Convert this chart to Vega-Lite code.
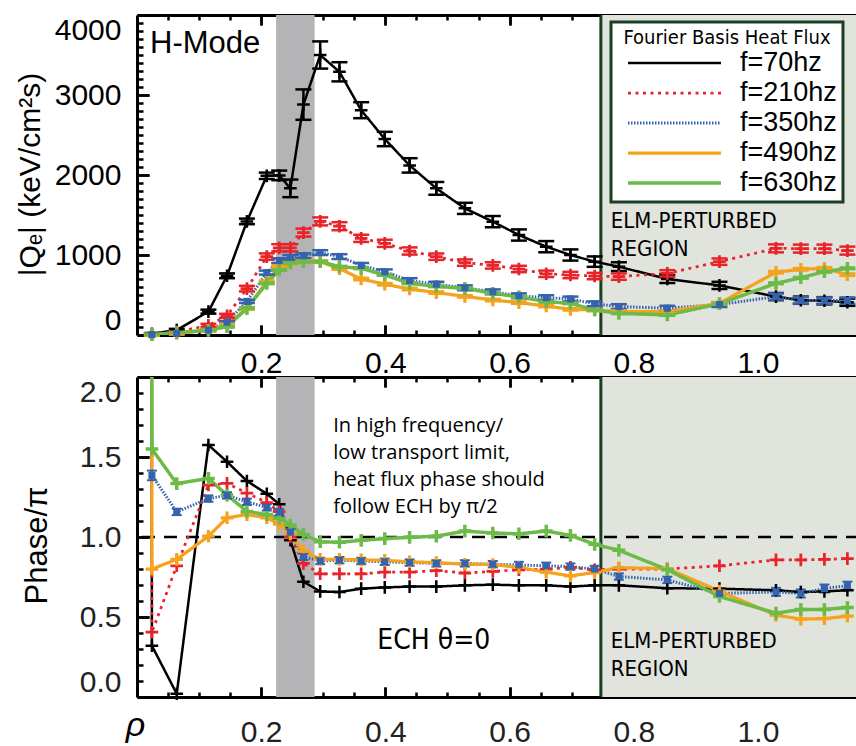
{
"$schema": "https://vega.github.io/schema/vega-lite/v6.json",
"background": "#ffffff",
"padding": {"left": 15, "top": 13, "right": 0, "bottom": 0},
"datasets": {"s": [
{"f":"f=70hz","rho":0.0235,"q":null,"qe":null,"ph":2.5},
{"f":"f=70hz","rho":0.024,"q":15,"qe":10,"ph":0.32},
{"f":"f=70hz","rho":0.064,"q":62,"qe":15,"ph":0.02},
{"f":"f=70hz","rho":0.115,"q":292,"qe":25,"ph":1.575},
{"f":"f=70hz","rho":0.145,"q":740,"qe":30,"ph":1.47},
{"f":"f=70hz","rho":0.177,"q":1420,"qe":35,"ph":1.35},
{"f":"f=70hz","rho":0.209,"q":1990,"qe":40,"ph":1.27},
{"f":"f=70hz","rho":0.229,"q":1995,"qe":60,"ph":1.205},
{"f":"f=70hz","rho":0.247,"q":1833,"qe":110,"ph":0.98},
{"f":"f=70hz","rho":0.268,"q":2880,"qe":190,"ph":0.72},
{"f":"f=70hz","rho":0.295,"q":3500,"qe":170,"ph":0.66},
{"f":"f=70hz","rho":0.326,"q":3290,"qe":120,"ph":0.656},
{"f":"f=70hz","rho":0.361,"q":2810,"qe":100,"ph":0.677},
{"f":"f=70hz","rho":0.399,"q":2450,"qe":90,"ph":0.685},
{"f":"f=70hz","rho":0.439,"q":2120,"qe":90,"ph":0.69},
{"f":"f=70hz","rho":0.482,"q":1833,"qe":80,"ph":0.69},
{"f":"f=70hz","rho":0.528,"q":1583,"qe":70,"ph":0.698},
{"f":"f=70hz","rho":0.573,"q":1417,"qe":70,"ph":0.702},
{"f":"f=70hz","rho":0.615,"q":1250,"qe":70,"ph":0.698},
{"f":"f=70hz","rho":0.659,"q":1104,"qe":70,"ph":0.698},
{"f":"f=70hz","rho":0.698,"q":1000,"qe":70,"ph":0.69},
{"f":"f=70hz","rho":0.737,"q":917,"qe":65,"ph":0.698},
{"f":"f=70hz","rho":0.776,"q":854,"qe":55,"ph":0.698},
{"f":"f=70hz","rho":0.854,"q":700,"qe":50,"ph":0.68},
{"f":"f=70hz","rho":0.938,"q":620,"qe":45,"ph":0.677},
{"f":"f=70hz","rho":1.029,"q":480,"qe":45,"ph":0.667},
{"f":"f=70hz","rho":1.069,"q":435,"qe":45,"ph":0.656},
{"f":"f=70hz","rho":1.107,"q":428,"qe":45,"ph":0.66},
{"f":"f=70hz","rho":1.144,"q":410,"qe":45,"ph":0.667},
{"f":"f=210hz","rho":0.0235,"q":null,"qe":null,"ph":2.5},
{"f":"f=210hz","rho":0.024,"q":10,"qe":5,"ph":0.405},
{"f":"f=210hz","rho":0.064,"q":40,"qe":10,"ph":0.82},
{"f":"f=210hz","rho":0.115,"q":120,"qe":20,"ph":1.325},
{"f":"f=210hz","rho":0.145,"q":240,"qe":25,"ph":1.335},
{"f":"f=210hz","rho":0.177,"q":580,"qe":35,"ph":1.275},
{"f":"f=210hz","rho":0.209,"q":980,"qe":40,"ph":1.215},
{"f":"f=210hz","rho":0.229,"q":1090,"qe":45,"ph":1.158},
{"f":"f=210hz","rho":0.247,"q":1090,"qe":45,"ph":1.0},
{"f":"f=210hz","rho":0.268,"q":1280,"qe":50,"ph":0.835},
{"f":"f=210hz","rho":0.295,"q":1420,"qe":50,"ph":0.77},
{"f":"f=210hz","rho":0.326,"q":1360,"qe":50,"ph":0.77},
{"f":"f=210hz","rho":0.361,"q":1208,"qe":45,"ph":0.77},
{"f":"f=210hz","rho":0.399,"q":1146,"qe":45,"ph":0.78},
{"f":"f=210hz","rho":0.439,"q":1050,"qe":45,"ph":0.78},
{"f":"f=210hz","rho":0.482,"q":979,"qe":40,"ph":0.79},
{"f":"f=210hz","rho":0.528,"q":905,"qe":40,"ph":0.775},
{"f":"f=210hz","rho":0.573,"q":870,"qe":40,"ph":0.785},
{"f":"f=210hz","rho":0.615,"q":825,"qe":40,"ph":0.795},
{"f":"f=210hz","rho":0.659,"q":765,"qe":40,"ph":0.8},
{"f":"f=210hz","rho":0.698,"q":750,"qe":40,"ph":0.81},
{"f":"f=210hz","rho":0.737,"q":737,"qe":40,"ph":0.795},
{"f":"f=210hz","rho":0.776,"q":730,"qe":40,"ph":0.8},
{"f":"f=210hz","rho":0.854,"q":770,"qe":40,"ph":0.8},
{"f":"f=210hz","rho":0.938,"q":917,"qe":40,"ph":0.82},
{"f":"f=210hz","rho":1.029,"q":1083,"qe":50,"ph":0.857},
{"f":"f=210hz","rho":1.069,"q":1080,"qe":50,"ph":0.857},
{"f":"f=210hz","rho":1.107,"q":1080,"qe":50,"ph":0.86},
{"f":"f=210hz","rho":1.144,"q":1055,"qe":50,"ph":0.865},
{"f":"f=350hz","rho":0.0235,"q":null,"qe":null,"ph":2.5,"pe":null},
{"f":"f=350hz","rho":0.024,"q":5,"qe":5,"ph":1.385,"pe":0.03},
{"f":"f=350hz","rho":0.064,"q":20,"qe":5,"ph":1.157,"pe":0.02},
{"f":"f=350hz","rho":0.115,"q":60,"qe":10,"ph":1.24,"pe":0.02},
{"f":"f=350hz","rho":0.145,"q":160,"qe":15,"ph":1.26,"pe":0.02},
{"f":"f=350hz","rho":0.177,"q":420,"qe":20,"ph":1.22,"pe":0.02},
{"f":"f=350hz","rho":0.209,"q":780,"qe":25,"ph":1.185,"pe":0.02},
{"f":"f=350hz","rho":0.229,"q":930,"qe":30,"ph":1.155,"pe":0.02},
{"f":"f=350hz","rho":0.247,"q":970,"qe":30,"ph":1.03,"pe":0.02},
{"f":"f=350hz","rho":0.268,"q":990,"qe":30,"ph":0.876,"pe":0.02},
{"f":"f=350hz","rho":0.295,"q":1030,"qe":30,"ph":0.85,"pe":0.02},
{"f":"f=350hz","rho":0.326,"q":980,"qe":30,"ph":0.855,"pe":0.02},
{"f":"f=350hz","rho":0.361,"q":870,"qe":30,"ph":0.85,"pe":0.02},
{"f":"f=350hz","rho":0.399,"q":790,"qe":30,"ph":0.845,"pe":0.02},
{"f":"f=350hz","rho":0.439,"q":680,"qe":30,"ph":0.84,"pe":0.02},
{"f":"f=350hz","rho":0.482,"q":635,"qe":30,"ph":0.835,"pe":0.02},
{"f":"f=350hz","rho":0.528,"q":590,"qe":30,"ph":0.835,"pe":0.02},
{"f":"f=350hz","rho":0.573,"q":540,"qe":30,"ph":0.83,"pe":0.02},
{"f":"f=350hz","rho":0.615,"q":490,"qe":30,"ph":0.825,"pe":0.02},
{"f":"f=350hz","rho":0.659,"q":467,"qe":30,"ph":0.82,"pe":0.02},
{"f":"f=350hz","rho":0.698,"q":450,"qe":30,"ph":0.815,"pe":0.02},
{"f":"f=350hz","rho":0.737,"q":390,"qe":30,"ph":0.8,"pe":0.02},
{"f":"f=350hz","rho":0.776,"q":355,"qe":30,"ph":0.753,"pe":0.02},
{"f":"f=350hz","rho":0.854,"q":335,"qe":30,"ph":0.732,"pe":0.02},
{"f":"f=350hz","rho":0.938,"q":380,"qe":30,"ph":0.647,"pe":0.02},
{"f":"f=350hz","rho":1.029,"q":480,"qe":40,"ph":0.657,"pe":0.025},
{"f":"f=350hz","rho":1.069,"q":432,"qe":40,"ph":0.647,"pe":0.025},
{"f":"f=350hz","rho":1.107,"q":430,"qe":40,"ph":0.678,"pe":0.025},
{"f":"f=350hz","rho":1.144,"q":430,"qe":40,"ph":0.696,"pe":0.025},
{"f":"f=490hz","rho":0.0235,"q":null,"qe":null,"ph":2.5},
{"f":"f=490hz","rho":0.024,"q":5,"qe":15,"ph":0.8},
{"f":"f=490hz","rho":0.064,"q":20,"qe":15,"ph":0.86},
{"f":"f=490hz","rho":0.115,"q":60,"qe":15,"ph":1.005},
{"f":"f=490hz","rho":0.145,"q":125,"qe":15,"ph":1.12},
{"f":"f=490hz","rho":0.177,"q":333,"qe":15,"ph":1.14},
{"f":"f=490hz","rho":0.209,"q":667,"qe":15,"ph":1.12},
{"f":"f=490hz","rho":0.229,"q":854,"qe":15,"ph":1.08},
{"f":"f=490hz","rho":0.247,"q":896,"qe":15,"ph":1.02},
{"f":"f=490hz","rho":0.268,"q":917,"qe":15,"ph":0.912},
{"f":"f=490hz","rho":0.295,"q":917,"qe":15,"ph":0.86},
{"f":"f=490hz","rho":0.326,"q":830,"qe":15,"ph":0.86},
{"f":"f=490hz","rho":0.361,"q":700,"qe":15,"ph":0.857},
{"f":"f=490hz","rho":0.399,"q":635,"qe":15,"ph":0.854},
{"f":"f=490hz","rho":0.439,"q":575,"qe":15,"ph":0.845},
{"f":"f=490hz","rho":0.482,"q":530,"qe":15,"ph":0.84},
{"f":"f=490hz","rho":0.528,"q":483,"qe":15,"ph":0.83},
{"f":"f=490hz","rho":0.573,"q":437,"qe":15,"ph":0.828},
{"f":"f=490hz","rho":0.615,"q":405,"qe":15,"ph":0.81},
{"f":"f=490hz","rho":0.659,"q":362,"qe":15,"ph":0.78},
{"f":"f=490hz","rho":0.698,"q":321,"qe":15,"ph":0.757},
{"f":"f=490hz","rho":0.737,"q":312,"qe":15,"ph":0.778},
{"f":"f=490hz","rho":0.776,"q":292,"qe":15,"ph":0.808},
{"f":"f=490hz","rho":0.854,"q":292,"qe":15,"ph":0.803},
{"f":"f=490hz","rho":0.938,"q":396,"qe":15,"ph":0.662},
{"f":"f=490hz","rho":1.029,"q":785,"qe":15,"ph":0.511},
{"f":"f=490hz","rho":1.069,"q":821,"qe":15,"ph":0.487},
{"f":"f=490hz","rho":1.107,"q":833,"qe":15,"ph":0.49},
{"f":"f=490hz","rho":1.144,"q":755,"qe":15,"ph":0.505},
{"f":"f=630hz","rho":0.0235,"q":null,"qe":null,"ph":2.5},
{"f":"f=630hz","rho":0.024,"q":5,"qe":10,"ph":1.55},
{"f":"f=630hz","rho":0.064,"q":30,"qe":10,"ph":1.334},
{"f":"f=630hz","rho":0.115,"q":60,"qe":10,"ph":1.366},
{"f":"f=630hz","rho":0.145,"q":104,"qe":10,"ph":1.262},
{"f":"f=630hz","rho":0.177,"q":333,"qe":10,"ph":1.16},
{"f":"f=630hz","rho":0.209,"q":646,"qe":10,"ph":1.14},
{"f":"f=630hz","rho":0.229,"q":812,"qe":10,"ph":1.116},
{"f":"f=630hz","rho":0.247,"q":900,"qe":10,"ph":1.074},
{"f":"f=630hz","rho":0.268,"q":917,"qe":10,"ph":1.016},
{"f":"f=630hz","rho":0.295,"q":917,"qe":10,"ph":0.97},
{"f":"f=630hz","rho":0.326,"q":854,"qe":10,"ph":0.967},
{"f":"f=630hz","rho":0.361,"q":833,"qe":10,"ph":0.979},
{"f":"f=630hz","rho":0.399,"q":750,"qe":10,"ph":0.99},
{"f":"f=630hz","rho":0.439,"q":646,"qe":10,"ph":0.998},
{"f":"f=630hz","rho":0.482,"q":608,"qe":10,"ph":1.005},
{"f":"f=630hz","rho":0.528,"q":583,"qe":10,"ph":1.037},
{"f":"f=630hz","rho":0.573,"q":521,"qe":10,"ph":1.025},
{"f":"f=630hz","rho":0.615,"q":477,"qe":10,"ph":1.02},
{"f":"f=630hz","rho":0.659,"q":417,"qe":10,"ph":1.037},
{"f":"f=630hz","rho":0.698,"q":396,"qe":10,"ph":1.01},
{"f":"f=630hz","rho":0.737,"q":312,"qe":10,"ph":0.954},
{"f":"f=630hz","rho":0.776,"q":271,"qe":10,"ph":0.917},
{"f":"f=630hz","rho":0.854,"q":250,"qe":10,"ph":0.796},
{"f":"f=630hz","rho":0.938,"q":390,"qe":10,"ph":0.628},
{"f":"f=630hz","rho":1.029,"q":646,"qe":10,"ph":0.524},
{"f":"f=630hz","rho":1.069,"q":715,"qe":10,"ph":0.547},
{"f":"f=630hz","rho":1.107,"q":792,"qe":10,"ph":0.547},
{"f":"f=630hz","rho":1.144,"q":833,"qe":10,"ph":0.559}
]},
"data": {"name": "s"},
"config": {
  "view": {"stroke": null},
  "axis": {"ticks": true, "tickOpacity": 1, "domainColor": "#000000", "domainWidth": 3, "tickColor": "#000000", "tickWidth": 2.5, "labelFont": "Liberation Sans", "labelFontSize": 30, "labelColor": "#000000", "grid": false, "titleFont": "Liberation Sans", "titleFontWeight": "normal", "titleColor": "#000000", "titleFontSize": 30, "zindex": 1}
},
"bounds": "flush",
"spacing": 42,
"resolve": {"scale": {"color": "independent", "strokeDash": "independent", "strokeWidth": "independent"}},
"vconcat": [
{
  "width": 722, "height": 320,
  "layer": [
    {"data": {"values": [{"a": 0.747, "b": 1.2}]},
     "mark": {"type": "rect", "color": "#e1e3dd", "clip": true},
     "encoding": {
       "x": {"field": "a", "type": "quantitative", "scale": {"domain": [0, 1.1627], "nice": false, "zero": false}, "axis": null},
       "x2": {"field": "b"}}},
    {"data": {"values": [{"a": 0.224, "b": 0.286}]},
     "mark": {"type": "rect", "color": "#b4b4b6"},
     "encoding": {
       "x": {"field": "a", "type": "quantitative", "axis": null},
       "x2": {"field": "b"}}},
    {"data": {"values": [{}]},
     "mark": {"type": "rule", "color": "#1a3f20", "strokeWidth": 3},
     "encoding": {"x": {"datum": 0.747, "type": "quantitative", "axis": null}}},
    {"mark": {"type": "line", "clip": true},
     "encoding": {
       "x": {"field": "rho", "type": "quantitative", "scale": {"domain": [0, 1.1627], "nice": false, "zero": false},
             "axis": {"orient": "bottom", "values": [0.2,0.4,0.6,0.8,1.0], "format": ".1f", "domain": false, "ticks": true, "tickSize": 10, "offset": -10, "labelPadding": 13, "labelOverlap": false, "labelFlush": false, "title": null}},
       "y": {"field": "q", "type": "quantitative", "scale": {"domain": [0, 4000], "nice": false, "zero": false},
             "axis": {"orient": "left", "values": [0,1000,2000,3000,4000], "format": "d", "domain": false, "ticks": true, "tickSize": 12, "offset": -12, "labelPadding": 16, "labelFlush": true, "labelOverlap": false, "title": "|Qₑ| (keV/cm²s)", "titleX": -110, "titleY": 159, "titleAngle": -90, "titleAlign": "center", "titleBaseline": "alphabetic"}},
       "color": {"field": "f", "type": "nominal", "scale": {"domain": ["f=70hz","f=210hz","f=350hz","f=490hz","f=630hz"], "range": ["#000000","#e8242a","#3563ad","#f5a31f","#6cba48"]},
                 "legend": {"title": "Fourier Basis Heat Flux", "orient": "none", "legendX": 474, "legendY": 7, "symbolType": "stroke", "symbolSize": 8649, "clipHeight": 26, "rowPadding": 3, "titlePadding": 2, "padding": 6, "symbolOffset": 9, "labelOffset": 17, "labelFont": "Liberation Sans", "labelFontSize": 27, "labelColor": "#000000", "labelLimit": 0, "labelExpr": "datum.label + '    '", "titleFont": "Liberation Sans Narrow, DejaVu Sans Condensed, sans-serif", "titleFontSize": 20, "titleLimit": 400, "titleFontWeight": "normal", "titleColor": "#000000", "titleAnchor": "middle", "strokeColor": "#1a3f20", "fillColor": "#ffffff", "encode": {"legend": {"update": {"strokeWidth": {"value": 3}}}}}},
       "strokeDash": {"field": "f", "type": "nominal", "scale": {"domain": ["f=70hz","f=210hz","f=350hz","f=490hz","f=630hz"], "range": [[1,0],[3,4.5],[1.5,1.5],[1,0],[1,0]]},
                 "legend": {"title": "Fourier Basis Heat Flux", "orient": "none", "legendX": 474, "legendY": 7, "symbolType": "stroke", "symbolSize": 8649, "clipHeight": 26, "rowPadding": 3, "titlePadding": 2, "padding": 6, "symbolOffset": 9, "labelOffset": 17, "labelFont": "Liberation Sans", "labelFontSize": 27, "labelColor": "#000000", "labelLimit": 0, "labelExpr": "datum.label + '    '", "titleFont": "Liberation Sans Narrow, DejaVu Sans Condensed, sans-serif", "titleFontSize": 20, "titleLimit": 400, "titleFontWeight": "normal", "titleColor": "#000000", "titleAnchor": "middle", "strokeColor": "#1a3f20", "fillColor": "#ffffff"}},
       "strokeWidth": {"field": "f", "type": "ordinal", "scale": {"domain": ["f=70hz","f=210hz","f=350hz","f=490hz","f=630hz"], "range": [2.5,3.5,5,5.5,2]},
                 "legend": {"title": "Fourier Basis Heat Flux", "orient": "none", "legendX": 474, "legendY": 7, "symbolType": "stroke", "symbolSize": 8649, "clipHeight": 26, "rowPadding": 3, "titlePadding": 2, "padding": 6, "symbolOffset": 9, "labelOffset": 17, "labelFont": "Liberation Sans", "labelFontSize": 27, "labelColor": "#000000", "labelLimit": 0, "labelExpr": "datum.label + '    '", "titleFont": "Liberation Sans Narrow, DejaVu Sans Condensed, sans-serif", "titleFontSize": 20, "titleLimit": 400, "titleFontWeight": "normal", "titleColor": "#000000", "titleAnchor": "middle", "strokeColor": "#1a3f20", "fillColor": "#ffffff"}}}},
    {"transform": [{"filter": "datum.q != null"}, {"calculate": "datum.q - datum.qe", "as": "lo"}, {"calculate": "datum.q + datum.qe", "as": "hi"}],
     "mark": {"type": "rule", "strokeWidth": 2.5},
     "encoding": {
       "x": {"field": "rho", "type": "quantitative",
             "axis": {"orient": "top", "values": [0.2,0.4,0.6,0.8,1.0], "labels": false, "domain": false, "ticks": true, "tickSize": 10, "offset": -10, "title": null}},
       "y": {"field": "lo", "type": "quantitative",
             "axis": {"orient": "right", "values": [0,1000,2000,3000,4000], "labels": false, "domain": false, "ticks": true, "tickSize": 12, "offset": -12, "title": null}},
       "y2": {"field": "hi"},
       "color": {"field": "f", "type": "nominal", "legend": null}}},
    {"transform": [{"filter": "datum.q != null"}, {"calculate": "datum.q - datum.qe", "as": "lo"}, {"calculate": "datum.q + datum.qe", "as": "hi"}, {"fold": ["lo", "hi"], "as": ["end", "yv"]}],
     "mark": {"type": "point", "shape": "stroke", "filled": false, "size": 256, "strokeWidth": 2.5, "opacity": 1},
     "encoding": {
       "x": {"field": "rho", "type": "quantitative", "axis": null},
       "y": {"field": "yv", "type": "quantitative", "axis": null},
       "color": {"field": "f", "type": "nominal", "legend": null}}},
    {"transform": [{"filter": "datum.q != null && datum.f != 'f=350hz'"}],
     "mark": {"type": "point", "shape": "M-1,0H1M0,-1V1", "filled": false, "size": 160, "opacity": 1},
     "encoding": {
       "x": {"field": "rho", "type": "quantitative", "axis": null},
       "y": {"field": "q", "type": "quantitative", "axis": null},
       "color": {"field": "f", "type": "nominal", "legend": null},
       "strokeWidth": {"field": "f", "type": "ordinal", "legend": null}}},
    {"transform": [{"filter": "datum.q != null && datum.f == 'f=350hz'"}],
     "mark": {"type": "square", "size": 50, "color": "#3563ad", "opacity": 1},
     "encoding": {
       "x": {"field": "rho", "type": "quantitative",
             "axis": {"orient": "bottom", "values": [0.05,0.1,0.15,0.2,0.25,0.3,0.35,0.4,0.45,0.5,0.55,0.6,0.65,0.7,0.75,0.8,0.85,0.9,0.95,1,1.05,1.1,1.15], "ticks": false, "labels": false, "domain": true, "title": null,
                      "grid": true, "gridColor": "#000000", "gridWidth": 2.5, "gridOpacity": 1,
                      "gridDash": {"condition": {"test": "abs(datum.value*5-round(datum.value*5))<0.001", "value": [10, 300, 10, 2000]}, "value": [5, 310, 5, 2000]}}},
       "y": {"field": "q", "type": "quantitative",
             "axis": {"orient": "left", "values": [100,200,300,400,500,600,700,800,900,1000,1100,1200,1300,1400,1500,1600,1700,1800,1900,2000,2100,2200,2300,2400,2500,2600,2700,2800,2900,3000,3100,3200,3300,3400,3500,3600,3700,3800,3900], "ticks": false, "labels": false, "domain": true, "title": null,
                      "grid": true, "gridColor": "#000000", "gridWidth": 2.5, "gridOpacity": 1,
                      "gridDash": {"condition": {"test": "datum.value % 1000 == 0", "value": [12, 698, 12, 2000]}, "value": [6, 710, 6, 2000]}}}}},
    {"data": {"values": [{}]},
     "mark": {"type": "text", "text": "H-Mode", "font": "Liberation Sans", "fontSize": 31, "align": "left", "baseline": "alphabetic", "color": "#000000"},
     "encoding": {"x": {"datum": 0.021, "type": "quantitative",
             "axis": {"orient": "top", "values": [0.5], "ticks": false, "labels": false, "domain": true, "title": null}},
                  "y": {"datum": 3525, "type": "quantitative",
             "axis": {"orient": "right", "values": [2000], "ticks": false, "labels": false, "domain": true, "title": null}}}},
    {"data": {"values": [{}]},
     "mark": {"type": "text", "text": ["ELM-PERTURBED", "REGION"], "font": "Liberation Sans Narrow, DejaVu Sans Condensed, sans-serif", "fontSize": 22, "lineHeight": 28, "align": "left", "baseline": "alphabetic", "color": "#000000"},
     "encoding": {"x": {"datum": 0.763, "type": "quantitative", "axis": null}, "y": {"datum": 1334, "type": "quantitative", "axis": null}}}
  ]
},
{
  "width": 722, "height": 320,
  "layer": [
    {"data": {"values": [{"a": 0.747, "b": 1.2}]},
     "mark": {"type": "rect", "color": "#e1e3dd", "clip": true},
     "encoding": {
       "x": {"field": "a", "type": "quantitative", "scale": {"domain": [0, 1.1627], "nice": false, "zero": false}, "axis": null},
       "x2": {"field": "b"}}},
    {"data": {"values": [{"a": 0.224, "b": 0.286}]},
     "mark": {"type": "rect", "color": "#b4b4b6"},
     "encoding": {
       "x": {"field": "a", "type": "quantitative", "axis": null},
       "x2": {"field": "b"}}},
    {"data": {"values": [{}]},
     "mark": {"type": "rule", "color": "#1a3f20", "strokeWidth": 3},
     "encoding": {"x": {"datum": 0.747, "type": "quantitative", "axis": null}}},
    {"data": {"values": [{}]},
     "mark": {"type": "rule", "color": "#000000", "strokeWidth": 2.5, "strokeDash": [13, 9]},
     "encoding": {"y": {"datum": 1, "type": "quantitative", "scale": {"domain": [0, 2], "nice": false, "zero": false}, "axis": null}}},
    {"mark": {"type": "line", "clip": true},
     "encoding": {
       "x": {"field": "rho", "type": "quantitative", "scale": {"domain": [0, 1.1627], "nice": false, "zero": false},
             "axis": {"orient": "bottom", "values": [0.2,0.4,0.6,0.8,1.0], "format": ".1f", "domain": false, "ticks": true, "tickSize": 10, "offset": -10, "labelPadding": 20, "labelOverlap": false, "labelFlush": false, "labelColor": "#222222",
                      "title": "ρ", "titleFontStyle": "italic", "titleFontSize": 34, "titleX": -2, "titleY": 48, "titleAlign": "center", "titleBaseline": "alphabetic", "titleAngle": 0}},
       "y": {"field": "ph", "type": "quantitative", "scale": {"domain": [0, 2], "nice": false, "zero": false},
             "axis": {"orient": "left", "values": [0,0.5,1,1.5,2], "format": ".1f", "domain": false, "ticks": true, "tickSize": 12, "offset": -12, "labelPadding": 16, "labelFlush": true, "labelOverlap": false, "labelColor": "#222222", "title": "Phase/π", "titleX": -103, "titleY": 168, "titleAngle": -90, "titleAlign": "center", "titleBaseline": "alphabetic", "titleFontSize": 31}},
       "color": {"field": "f", "type": "nominal", "scale": {"domain": ["f=70hz","f=210hz","f=350hz","f=490hz","f=630hz"], "range": ["#000000","#e8242a","#3563ad","#f5a31f","#6cba48"]}, "legend": null},
       "strokeDash": {"field": "f", "type": "nominal", "scale": {"domain": ["f=70hz","f=210hz","f=350hz","f=490hz","f=630hz"], "range": [[1,0],[3,4.5],[1.5,1.5],[1,0],[1,0]]}, "legend": null},
       "strokeWidth": {"field": "f", "type": "ordinal", "scale": {"domain": ["f=70hz","f=210hz","f=350hz","f=490hz","f=630hz"], "range": [2.5,3.5,5,5.5,2]}, "legend": null}}},
    {"transform": [{"filter": "datum.f == 'f=350hz' && datum.ph < 2.1"}, {"calculate": "datum.ph - datum.pe", "as": "lo"}, {"calculate": "datum.ph + datum.pe", "as": "hi"}],
     "mark": {"type": "rule", "strokeWidth": 2, "color": "#3563ad"},
     "encoding": {
       "x": {"field": "rho", "type": "quantitative",
             "axis": {"orient": "top", "values": [0.2,0.4,0.6,0.8,1.0], "labels": false, "domain": false, "ticks": true, "tickSize": 10, "offset": -10, "title": null}},
       "y": {"field": "lo", "type": "quantitative",
             "axis": {"orient": "right", "values": [0,0.5,1,1.5,2], "labels": false, "domain": false, "ticks": true, "tickSize": 12, "offset": -12, "title": null}},
       "y2": {"field": "hi"}}},
    {"transform": [{"filter": "datum.f == 'f=350hz' && datum.ph < 2.1"}, {"calculate": "datum.ph - datum.pe", "as": "lo"}, {"calculate": "datum.ph + datum.pe", "as": "hi"}, {"fold": ["lo", "hi"], "as": ["end", "yv"]}],
     "mark": {"type": "point", "shape": "stroke", "filled": false, "size": 100, "strokeWidth": 2, "color": "#3563ad", "opacity": 1},
     "encoding": {
       "x": {"field": "rho", "type": "quantitative", "axis": null},
       "y": {"field": "yv", "type": "quantitative", "axis": null}}},
    {"transform": [{"filter": "datum.ph < 2.1 && datum.f != 'f=350hz'"}],
     "mark": {"type": "point", "shape": "M-1,0H1M0,-1V1", "filled": false, "size": 160, "opacity": 1},
     "encoding": {
       "x": {"field": "rho", "type": "quantitative", "axis": null},
       "y": {"field": "ph", "type": "quantitative", "axis": null},
       "color": {"field": "f", "type": "nominal", "legend": null},
       "strokeWidth": {"field": "f", "type": "ordinal", "legend": null}}},
    {"transform": [{"filter": "datum.ph < 2.1 && datum.f == 'f=350hz'"}],
     "mark": {"type": "square", "size": 50, "color": "#3563ad", "opacity": 1},
     "encoding": {
       "x": {"field": "rho", "type": "quantitative",
             "axis": {"orient": "bottom", "values": [0.05,0.1,0.15,0.2,0.25,0.3,0.35,0.4,0.45,0.5,0.55,0.6,0.65,0.7,0.75,0.8,0.85,0.9,0.95,1,1.05,1.1,1.15], "ticks": false, "labels": false, "domain": true, "title": null,
                      "grid": true, "gridColor": "#000000", "gridWidth": 2.5, "gridOpacity": 1,
                      "gridDash": {"condition": {"test": "abs(datum.value*5-round(datum.value*5))<0.001", "value": [10, 300, 10, 2000]}, "value": [5, 310, 5, 2000]}}},
       "y": {"field": "ph", "type": "quantitative",
             "axis": {"orient": "left", "values": [0.1,0.2,0.3,0.4,0.5,0.6,0.7,0.8,0.9,1,1.1,1.2,1.3,1.4,1.5,1.6,1.7,1.8,1.9], "ticks": false, "labels": false, "domain": true, "title": null,
                      "grid": true, "gridColor": "#000000", "gridWidth": 2.5, "gridOpacity": 1,
                      "gridDash": {"condition": {"test": "abs(datum.value*2-round(datum.value*2))<0.001", "value": [12, 698, 12, 2000]}, "value": [6, 710, 6, 2000]}}}}},
    {"data": {"values": [{}]},
     "mark": {"type": "text", "text": ["In high frequency/", "low transport limit,", "heat flux phase should", "follow ECH by π/2"], "font": "Open Sans", "fontSize": 20, "lineHeight": 27, "align": "left", "baseline": "alphabetic", "color": "#000000"},
     "encoding": {"x": {"datum": 0.316, "type": "quantitative",
             "axis": {"orient": "top", "values": [0.5], "ticks": false, "labels": false, "domain": true, "title": null}},
                  "y": {"datum": 1.656, "type": "quantitative",
             "axis": {"orient": "right", "values": [1], "ticks": false, "labels": false, "domain": true, "title": null}}}},
    {"data": {"values": [{}]},
     "mark": {"type": "text", "text": "ECH θ=0", "font": "Liberation Sans Narrow, DejaVu Sans Condensed, sans-serif", "fontSize": 28, "align": "left", "baseline": "alphabetic", "color": "#000000"},
     "encoding": {"x": {"datum": 0.387, "type": "quantitative", "axis": null}, "y": {"datum": 0.302, "type": "quantitative", "axis": null}}},
    {"data": {"values": [{}]},
     "mark": {"type": "text", "text": ["ELM-PERTURBED", "REGION"], "font": "Liberation Sans Narrow, DejaVu Sans Condensed, sans-serif", "fontSize": 22, "lineHeight": 28, "align": "left", "baseline": "alphabetic", "color": "#000000"},
     "encoding": {"x": {"datum": 0.763, "type": "quantitative", "axis": null}, "y": {"datum": 0.304, "type": "quantitative", "axis": null}}}
  ]
}
]
}
